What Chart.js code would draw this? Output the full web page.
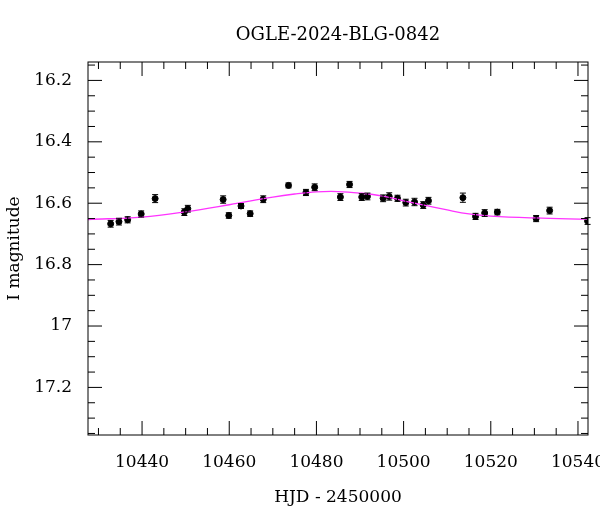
<!DOCTYPE html>
<html>
<head>
<meta charset="utf-8">
<script src="https://cdn.jsdelivr.net/npm/chart.js@4"></script>
<style>body{margin:0;background:#fff}#wrap{width:600px;height:512px}</style>
</head>
<body>
<div id="wrap"><canvas id="lc"></canvas></div>
<script>
const days = [10432.8,10434.7,10436.7,10439.8,10443.0,10449.7,10450.5,10458.6,10459.9,10462.7,10464.8,10467.8,10473.6,10477.6,10479.6,10485.5,10487.6,10490.4,10491.7,10495.3,10496.7,10498.6,10500.5,10502.5,10504.5,10505.7,10513.6,10516.5,10518.6,10521.5,10530.4,10533.5,10542.2];
const mags = [16.667,16.660,16.654,16.635,16.585,16.629,16.618,16.588,16.640,16.609,16.634,16.587,16.542,16.565,16.548,16.580,16.539,16.580,16.578,16.584,16.578,16.584,16.598,16.596,16.606,16.592,16.582,16.643,16.632,16.629,16.650,16.624,16.658];
const errs = [0.011,0.011,0.010,0.010,0.013,0.011,0.011,0.012,0.009,0.008,0.009,0.011,0.008,0.010,0.011,0.011,0.010,0.011,0.011,0.011,0.012,0.010,0.011,0.012,0.011,0.011,0.015,0.010,0.011,0.009,0.010,0.011,0.011];
const modelDays = [10427.6,10440,10450,10460,10470,10475,10480,10485,10490,10495,10500,10505,10510,10515,10520,10530,10542.3];
const modelMags = [16.653,16.645,16.628,16.605,16.580,16.570,16.563,16.562,16.567,16.576,16.592,16.607,16.622,16.635,16.642,16.648,16.652];
const xTicks = [10440,10460,10480,10500,10520,10540];
const yTicks = [16.2,16.4,16.6,16.8,17,17.2];
const FONT = '"DejaVu Serif", "Liberation Serif", serif';

const frame = {
  id: 'frame',
  afterDatasetsDraw(chart) {
    const {ctx, chartArea: a, scales: {x, y}} = chart;
    ctx.save();
    ctx.strokeStyle = '#000';
    ctx.lineWidth = 1;
    // error bars
    days.forEach((d, i) => {
      const px = x.getPixelForValue(d);
      if (px > a.right + 1) return;
      const y1 = y.getPixelForValue(mags[i] - errs[i]);
      const y2 = y.getPixelForValue(mags[i] + errs[i]);
      ctx.beginPath();
      ctx.moveTo(px, y1); ctx.lineTo(px, y2);
      ctx.moveTo(px - 3, y1); ctx.lineTo(px + 3, y1);
      ctx.moveTo(px - 3, y2); ctx.lineTo(px + 3, y2);
      ctx.stroke();
    });
    ctx.strokeRect(a.left, a.top, a.right - a.left, a.bottom - a.top);
    ctx.beginPath();
    for (let v = 10430; v <= 10545; v += 5) {
      const px = x.getPixelForValue(v);
      if (px < a.left || px > a.right) continue;
      const len = v % 20 === 0 ? 14 : 7;
      ctx.moveTo(px, a.bottom); ctx.lineTo(px, a.bottom - len);
      ctx.moveTo(px, a.top); ctx.lineTo(px, a.top + len);
    }
    for (let k = 0; k <= 24; k++) {
      const v = 16.15 + k * 0.05;
      const py = y.getPixelForValue(v);
      if (py < a.top || py > a.bottom) continue;
      const major = Math.abs(Math.round(v * 5) - v * 5) < 1e-6;
      const len = major ? 14 : 7;
      ctx.moveTo(a.left, py); ctx.lineTo(a.left + len, py);
      ctx.moveTo(a.right, py); ctx.lineTo(a.right - len, py);
    }
    ctx.stroke();
    ctx.fillStyle = '#000';
    ctx.font = '18px ' + FONT;
    ctx.textAlign = 'center';
    ctx.fillText('OGLE-2024-BLG-0842', (a.left + a.right) / 2, 40);
    ctx.restore();
  }
};

new Chart(document.getElementById('lc'), {
  type: 'scatter',
  data: {
    datasets: [
      {
        type: 'line',
        data: modelDays.map((d, i) => ({x: d, y: modelMags[i]})),
        borderColor: '#ff33ff',
        borderWidth: 1.3,
        pointRadius: 0,
        tension: 0.4,
        fill: false
      },
      {
        data: days.map((d, i) => ({x: d, y: mags[i]})),
        backgroundColor: '#000',
        borderColor: '#000',
        pointRadius: 3
      }
    ]
  },
  plugins: [frame],
  options: {
    responsive: true,
    maintainAspectRatio: false,
    animation: false,
    clip: true,
    layout: {padding: {top: 62, right: 12, left: 0, bottom: 0}},
    plugins: {legend: {display: false}, tooltip: {enabled: false}},
    scales: {
      x: {
        type: 'linear', min: 10427.6, max: 10542.3,
        afterBuildTicks: s => { s.ticks = xTicks.map(v => ({value: v})); },
        afterFit: s => { s.height = 77; s.paddingLeft = 0; s.paddingRight = 0; },
        grid: {display: false}, border: {display: false},
        ticks: {color: '#000', font: {family: FONT, size: 17}, padding: 9, maxRotation: 0, callback: v => String(v)},
        title: {display: true, text: 'HJD - 2450000', color: '#000', font: {family: FONT, size: 17}, padding: {top: 4}}
      },
      y: {
        type: 'linear', reverse: true, min: 16.14, max: 17.355,
        afterBuildTicks: s => { s.ticks = yTicks.map(v => ({value: v})); },
        afterFit: s => { s.width = 88; s.paddingTop = 0; s.paddingBottom = 0; },
        grid: {display: false}, border: {display: false},
        ticks: {color: '#000', font: {family: FONT, size: 17}, padding: 8, callback: v => String(+v.toFixed(2))},
        title: {display: true, text: 'I magnitude', color: '#000', font: {family: FONT, size: 17}, padding: {bottom: 2}}
      }
    }
  }
});
</script>
</body>
</html>
